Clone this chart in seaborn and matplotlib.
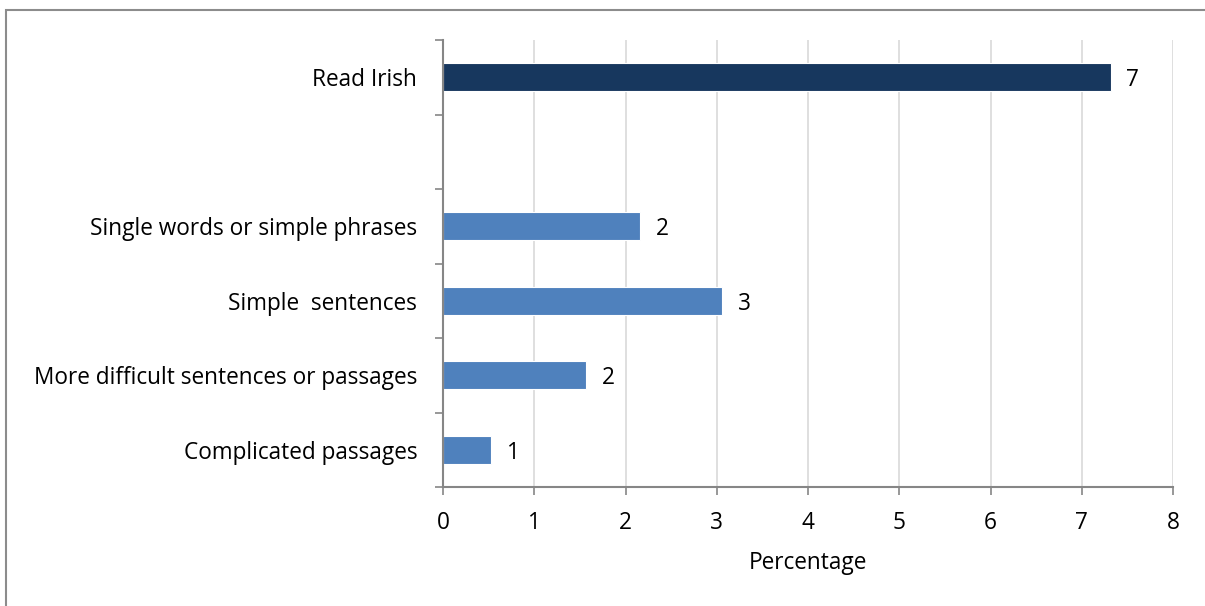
import matplotlib
matplotlib.use("Agg")
import matplotlib.pyplot as plt
from matplotlib.patches import Rectangle
import seaborn as sns
import pandas as pd

# Reading ability in Irish, percentage of respondents
categories = ["Read Irish", " ", "Single words or simple phrases", "Simple  sentences",
              "More difficult sentences or passages", "Complicated passages"]
values = [7.32, None, 2.16, 3.06, 1.57, 0.53]
bar_colors = ["#17375E", "#FFFFFF", "#4F81BD", "#4F81BD", "#4F81BD", "#4F81BD"]
x_ticks = [0, 1, 2, 3, 4, 5, 6, 7, 8]
x_label = "Percentage"

sns.set_theme(style="white")
plt.rcParams["font.family"] = ["Open Sans", "DejaVu Sans"]
plt.rcParams["text.color"] = "black"
plt.rcParams["xtick.color"] = "black"
plt.rcParams["ytick.color"] = "black"
plt.rcParams["axes.labelcolor"] = "black"

FS = 16.3

df = pd.DataFrame({"category": categories, "value": values}).dropna()
palette = dict(zip(categories, bar_colors))

fig = plt.figure(figsize=(12.05, 6.06), dpi=100)
ax = fig.add_axes([443 / 1205, 1 - 487 / 606, (1173 - 443) / 1205, (487 - 40) / 606])

sns.barplot(data=df, x="value", y="category", hue="category", order=categories,
            palette=palette, saturation=1, legend=False, width=0.38, orient="h",
            edgecolor="white", linewidth=0.8, ax=ax, zorder=3)

# value labels at the end of each bar
for i, (cat, v) in enumerate(zip(categories, values)):
    if v is None:
        continue
    ax.annotate(f"{round(v):d}", xy=(v, i), xytext=(11, -2), textcoords="offset points",
                ha="left", va="center", fontsize=FS, color="black")

ax.set_xlim(0, 8)
ax.set_ylim(len(categories) - 0.5, -0.5)
ax.set_xticks(x_ticks)
ax.set_xticklabels([str(t) for t in x_ticks], fontsize=FS)
ax.set_xlabel(x_label, fontsize=FS, labelpad=12)
ax.set_ylabel("")

# labels at category centres, tick marks at category boundaries
ax.set_yticks(range(len(categories)))
ax.set_yticklabels(categories, fontsize=FS)
ax.set_yticks([i - 0.5 for i in range(len(categories) + 1)], minor=True)
ax.tick_params(axis="y", which="major", length=0, pad=18.5, left=True)
ax.tick_params(axis="y", which="minor", length=6, width=1.2, color="#868686",
               direction="out", left=True)
ax.tick_params(axis="x", which="major", length=6, width=1.2, color="#868686",
               labelcolor="black", direction="out", bottom=True, pad=11)

ax.grid(axis="x", color="#D9D9D9", linewidth=1.2, zorder=0)
ax.grid(axis="y", visible=False)
ax.set_axisbelow(True)
for side in ["top", "right"]:
    ax.spines[side].set_visible(False)
for side in ["left", "bottom"]:
    ax.spines[side].set_color("#868686")
    ax.spines[side].set_linewidth(1.5)
    ax.spines[side].set_zorder(4)

# outer chart frame
fig.patches.append(Rectangle((5.5 / 1205, -0.05), 1.1, 1 - 9.5 / 606 + 0.05,
                             transform=fig.transFigure, fill=False,
                             edgecolor="#8C8C8C", linewidth=1.5))

fig.savefig("out.png", dpi=100, facecolor="white")
